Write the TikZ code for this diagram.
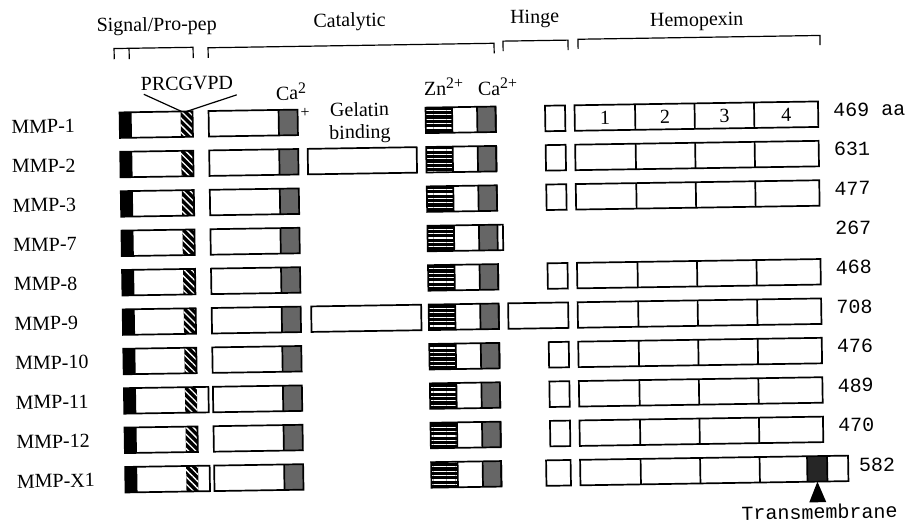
\documentclass[tikz,border=0pt]{standalone}
\usepackage{fontspec}
\setmainfont{Liberation Serif}
\newfontfamily\cmono{Liberation Mono}
\usetikzlibrary{patterns.meta}
\tikzset{
  boxline/.style={line width=1.7pt, line join=miter},
  brk/.style={line width=1.2pt},
  hatchfill/.style={pattern={Lines[angle=-45,distance=5pt,line width=1.3pt]}, pattern color=white},
  stripefill/.style={pattern={Lines[angle=0,distance=4.4pt,line width=1.1pt]}, pattern color=white},
  stipple/.style={fill=black!60},
  lbl/.style={font=\fontsize{20}{23}\selectfont, inner sep=0pt},
  num/.style={font=\cmono\fontsize{20}{23}\selectfont, inner sep=0pt, anchor=west},
}
\newcommand\SupTxt[1]{\raisebox{6.5pt}{\fontsize{16}{16}\selectfont #1}}
\newcommand\SigBox[2]{%
  \fill[black] (122.5,#1-12.75) rectangle (134.5,#1+12.75);
  \fill[black] (183.5,#1-12.75) rectangle (195.5,#1+12.75);
  \fill[hatchfill] (183.5,#1-12.75) rectangle (195.5,#1+12.75);
  \draw[boxline] (122.5,#1-12.75) rectangle (#2,#1+12.75);
}
\newcommand\CatBox[1]{%
  \fill[stipple] (281.5,#1-12.75) rectangle (300.5,#1+12.75);
  \draw[boxline] (211.5,#1-12.75) rectangle (300.5,#1+12.75);
  \draw[boxline] (281.5,#1-12.75) -- (281.5,#1+12.75);
}
\newcommand\ZnBox[2]{%
  \fill[black] (428.5,#1-12.75) rectangle (455,#1+12.75);
  \fill[stripefill] (428.5,#1-12.75) rectangle (455,#1+12.75);
  \fill[stipple] (480,#1-12.75) rectangle (498.5,#1+12.75);
  \draw[boxline] (428.5,#1-12.75) rectangle (#2,#1+12.75);
  \draw[boxline] (455,#1-12.75) -- (455,#1+12.75);
  \draw[boxline] (480,#1-12.75) -- (480,#1+12.75);
  \draw[boxline] (498.5,#1-12.75) -- (498.5,#1+12.75);
}
\newcommand\HingeBox[2]{%
  \draw[boxline] (#2,#1-12.75) rectangle (568,#1+12.75);
}
\newcommand\GelBox[3]{%
  \draw[boxline] (#2,#1-12.75) rectangle (#3,#1+12.75);
}
\newcommand\HemoBox[2]{%
  \draw[boxline] (577.5,#1-12.75) rectangle (#2,#1+12.75);
  \draw[boxline] (638,#1-12.75) -- (638,#1+12.75);
  \draw[boxline] (697.5,#1-12.75) -- (697.5,#1+12.75);
  \draw[boxline] (757,#1-12.75) -- (757,#1+12.75);
}
\begin{document}
\begin{tikzpicture}[x=1pt,y=1pt]
\useasboundingbox (0,0) rectangle (909,-524);
\fill[white] (0,0) rectangle (909,-524);
\begin{scope}[rotate around={0.9:(450,-297)}, transform shape]
% headers
\node[lbl, anchor=base] (hsig) at (161,-26.4) {Signal/Pro-pep};
\node[lbl, anchor=base] (hcat) at (354,-25.1) {Catalytic};
\node[lbl, anchor=base] (hhin) at (539,-24.6) {Hinge};
\node[lbl, anchor=base] (hhem) at (701,-30) {Hemopexin};
% brackets
\draw[brk] (118,-54) -- (118,-43.3) -- (197,-43.3) -- (197,-54);
\draw[brk] (133,-43.3) -- (133,-54);
\draw[brk] (212,-54) -- (212,-44) -- (498,-44) -- (498,-54);
\draw[brk] (507,-52) -- (507,-42) -- (572,-42) -- (572,-52);
\draw[brk] (582,-51) -- (582,-41.3) -- (824,-41.3) -- (824,-51);
% annotations
\node[lbl, anchor=base] (prc) at (190.3,-85.9) {PRCGVPD};
\coordinate (pl) at (147,-89.5);
\coordinate (pr) at (240,-91.5);
\coordinate (ql) at (185,-107.5);
\coordinate (qr) at (189,-107.5);
\draw[line width=1.2pt] (pl) -- (ql);
\draw[line width=1.2pt] (pr) -- (qr);
\node[lbl, anchor=base west] (ca1) at (279,-97.4) {Ca\SupTxt{2}};
\node[lbl, font=\fontsize{16}{16}\selectfont] (ca1p) at (308,-110.5) {+};
\node[lbl, align=center, font=\fontsize{20}{22.5}\selectfont] (gel) at (362.5,-121.3) {Gelatin\\binding};
\node[lbl, anchor=base west] (zn) at (427,-95.1) {Zn\SupTxt{2+}};
\node[lbl, anchor=base west] (ca2) at (481,-95.9) {Ca\SupTxt{2+}};
% row labels
\node[lbl, anchor=west] (m1) at (14,-120) {MMP-1};
\node[lbl, anchor=west] (m2) at (14,-159.4) {MMP-2};
\node[lbl, anchor=west] (m3) at (14,-198.8) {MMP-3};
\node[lbl, anchor=west] (m7) at (14,-238.2) {MMP-7};
\node[lbl, anchor=west] (m8) at (14,-277.6) {MMP-8};
\node[lbl, anchor=west] (m9) at (14,-317) {MMP-9};
\node[lbl, anchor=west] (m10) at (14,-356.4) {MMP-10};
\node[lbl, anchor=west] (m11) at (14,-395.8) {MMP-11};
\node[lbl, anchor=west] (m12) at (14,-435.2) {MMP-12};
\node[lbl, anchor=west] (mx1) at (14,-474.6) {MMP-X1};
% MMP-1
\SigBox{-120}{195.5}\CatBox{-120}\ZnBox{-120}{498.5}\HingeBox{-120}{548}\HemoBox{-120}{821}
\node[lbl] (s1) at (607.75,-120) {1};
\node[lbl] (s2) at (667.75,-120) {2};
\node[lbl] (s3) at (727.25,-120) {3};
\node[lbl] (s4) at (789,-120) {4};
\node[num] (n1) at (836,-116) {469 aa};
% MMP-2
\SigBox{-159.4}{195.5}\CatBox{-159.4}\GelBox{-159.4}{310}{419}\ZnBox{-159.4}{498.5}\HingeBox{-159.4}{548}\HemoBox{-159.4}{821}
\node[num] (n2) at (836,-155.4) {631};
% MMP-3
\SigBox{-198.8}{195.5}\CatBox{-198.8}\ZnBox{-198.8}{498.5}\HingeBox{-198.8}{548}\HemoBox{-198.8}{821}
\node[num] (n3) at (836,-194.8) {477};
% MMP-7
\SigBox{-238.2}{195.5}\CatBox{-238.2}\ZnBox{-238.2}{504}
\node[num] (n7) at (836,-234.2) {267};
% MMP-8
\SigBox{-277.6}{195.5}\CatBox{-277.6}\ZnBox{-277.6}{498.5}\HingeBox{-277.6}{548}\HemoBox{-277.6}{821}
\node[num] (n8) at (836,-273.6) {468};
% MMP-9
\SigBox{-317}{195.5}\CatBox{-317}\GelBox{-317}{311}{421}\ZnBox{-317}{498.5}\HingeBox{-317}{508}\HemoBox{-317}{821}
\node[num] (n9) at (836,-313) {708};
% MMP-10
\SigBox{-356.4}{195.5}\CatBox{-356.4}\ZnBox{-356.4}{498.5}\HingeBox{-356.4}{548}\HemoBox{-356.4}{821}
\node[num] (n10) at (836,-352.4) {476};
% MMP-11
\SigBox{-395.8}{207}\CatBox{-395.8}\ZnBox{-395.8}{498.5}\HingeBox{-395.8}{548}\HemoBox{-395.8}{821}
\node[num] (n11) at (836,-391.8) {489};
% MMP-12
\SigBox{-435.2}{195.5}\CatBox{-435.2}\ZnBox{-435.2}{498.5}\HingeBox{-435.2}{548}\HemoBox{-435.2}{821}
\node[num] (n12) at (836,-431.2) {470};
% MMP-X1
\SigBox{-474.6}{207}\CatBox{-474.6}\ZnBox{-474.6}{498.5}\HingeBox{-474.6}{543.5}
\fill[black!85] (804.5,-474.6-12.75) rectangle (824.5,-474.6+12.75);
\HemoBox{-474.6}{845.5}
\draw[boxline] (804.5,-474.6-12.75) -- (804.5,-474.6+12.75);
\draw[boxline] (824.5,-474.6-12.75) -- (824.5,-474.6+12.75);
\node[num] (nx1) at (856,-471.6) {582};
\coordinate (tmtop) at (814.5,-487.4);
\fill[black] (tmtop) -- (806,-508) -- (823,-508) -- cycle;
\node[num, anchor=center] (tm) at (816,-517.5) {Transmembrane};
\end{scope}
\end{tikzpicture}
\end{document}
